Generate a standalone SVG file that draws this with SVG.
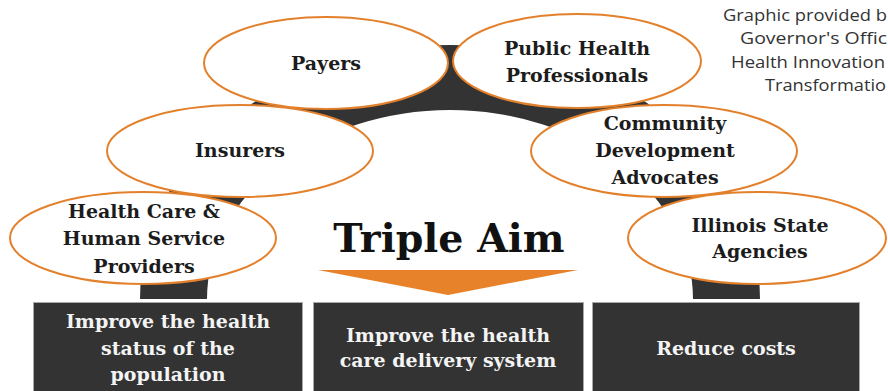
<svg xmlns="http://www.w3.org/2000/svg" width="888" height="391" viewBox="0 0 888 391">
<style>
.ell{fill:#ffffff;stroke:#E3802C;stroke-width:2}
.lbl{font-family:"DejaVu Serif","Liberation Serif",serif;font-weight:bold;font-size:19px;fill:#1c1c1c;text-anchor:middle}
.box{fill:#333333;stroke:#a8a8a8;stroke-width:1}
.btxt{font-family:"DejaVu Serif","Liberation Serif",serif;font-weight:bold;font-size:19px;fill:#f4f4f4;text-anchor:middle}
.credit{font-family:"Open Sans","Noto Sans","Liberation Sans",sans-serif;font-size:16px;fill:#333333}
</style>
<rect width="888" height="391" fill="#ffffff"/>
<g id="connectors">
<path d="M 140 299 A 310 254 0 0 1 760 299 L 693 299 A 243 189 0 0 0 207 299 Z" fill="#333333"/>
</g>
<g id="credit">
<text class="credit" x="723" y="21" textLength="164" lengthAdjust="spacingAndGlyphs">Graphic provided b</text>
<text class="credit" x="740" y="44" textLength="147" lengthAdjust="spacingAndGlyphs">Governor's Offic</text>
<text class="credit" x="731" y="68" textLength="154" lengthAdjust="spacingAndGlyphs">Health Innovation</text>
<text class="credit" x="765" y="91" textLength="121" lengthAdjust="spacingAndGlyphs">Transformatio</text>
</g>
<g id="insurers">
<ellipse class="ell" cx="240" cy="151" rx="133" ry="46"/>
<text class="lbl" x="240" y="157">Insurers</text>
</g>
<g id="payers">
<ellipse class="ell" cx="326" cy="63" rx="122" ry="46"/>
<text class="lbl" x="326" y="70">Payers</text>
</g>
<g id="community">
<ellipse class="ell" cx="664" cy="151" rx="133" ry="46"/>
<text class="lbl" x="665" y="130">Community</text>
<text class="lbl" x="665" y="157">Development</text>
<text class="lbl" x="665" y="184">Advocates</text>
</g>
<g id="public-health">
<ellipse class="ell" cx="577" cy="61" rx="124" ry="47"/>
<text class="lbl" x="577" y="55">Public Health</text>
<text class="lbl" x="577" y="82">Professionals</text>
</g>
<g id="providers">
<ellipse class="ell" cx="143" cy="238" rx="133" ry="46"/>
<text class="lbl" x="144" y="218">Health Care &amp;</text>
<text class="lbl" x="144" y="245">Human Service</text>
<text class="lbl" x="144" y="273">Providers</text>
</g>
<g id="agencies">
<ellipse class="ell" cx="757" cy="238" rx="129" ry="46"/>
<text class="lbl" x="760" y="232">Illinois State</text>
<text class="lbl" x="760" y="258">Agencies</text>
</g>
<g id="triple-aim">
<text x="449" y="252" font-family="DejaVu Serif,Liberation Serif,serif" font-weight="bold" font-size="39.5" fill="#111111" text-anchor="middle">Triple Aim</text>
<polygon points="318,270 578,270 448,295" fill="#E8822A"/>
</g>
<g id="goal-health-status">
<rect class="box" x="33.5" y="302.5" width="269" height="95"/>
<text class="btxt" x="168" y="328">Improve the health</text>
<text class="btxt" x="168" y="355">status of the</text>
<text class="btxt" x="168" y="381">population</text>
</g>
<g id="goal-care-delivery">
<rect class="box" x="313.5" y="302.5" width="270" height="95"/>
<text class="btxt" x="448" y="342">Improve the health</text>
<text class="btxt" x="448" y="367">care delivery system</text>
</g>
<g id="goal-costs">
<rect class="box" x="592.5" y="302.5" width="267" height="95"/>
<text class="btxt" x="726" y="355">Reduce costs</text>
</g>
</svg>
